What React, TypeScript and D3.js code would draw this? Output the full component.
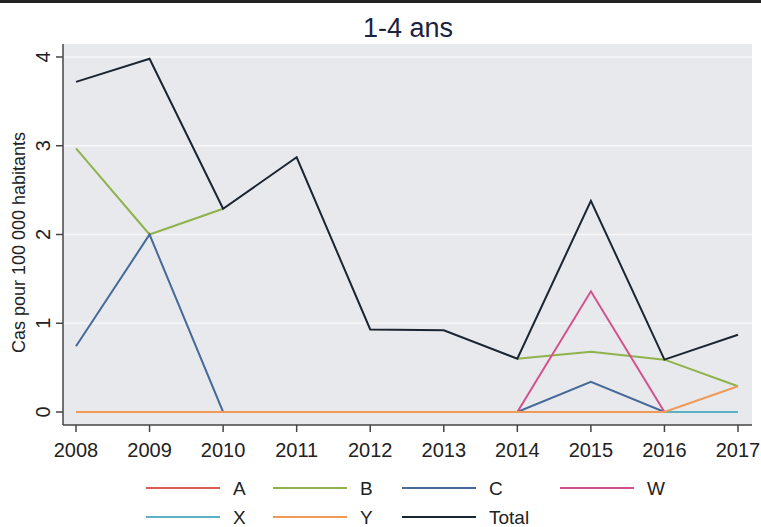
import React from 'react';
import * as d3 from 'd3';

const years = [2008, 2009, 2010, 2011, 2012, 2013, 2014, 2015, 2016, 2017];
const seriesA = [0, 0, 0, 0, 0, 0, 0, 0, 0, 0];
const seriesB = [2.97, 2.0, 2.29, null, null, null, 0.6, 0.68, 0.59, 0.29];
const seriesC = [0.74, 2.0, 0, 0, 0, 0, 0, 0.34, 0, 0];
const seriesW = [null, null, null, null, null, null, 0, 1.36, 0, null];
const seriesX = [0, 0, 0, 0, 0, 0, 0, 0, 0, 0];
const seriesY = [0, 0, 0, 0, 0, 0, 0, 0, 0, 0.29];
const seriesTotal = [3.72, 3.98, 2.29, 2.87, 0.93, 0.92, 0.6, 2.38, 0.59, 0.87];
const yTicks = [0, 1, 2, 3, 4];

const series = [
  { name: 'A', values: seriesA, color: '#dc5a55' },
  { name: 'B', values: seriesB, color: '#8fb24c' },
  { name: 'C', values: seriesC, color: '#46699a' },
  { name: 'W', values: seriesW, color: '#d4508c' },
  { name: 'X', values: seriesX, color: '#5cb2c2' },
  { name: 'Y', values: seriesY, color: '#f09a58' },
  { name: 'Total', values: seriesTotal, color: '#1b2531' },
];

// legend layout: [column x, row]
const legendPos = [[146, 0], [273, 0], [402, 0], [560, 0], [146, 1], [273, 1], [402, 1]];

const W = 761;
const H = 527;
const plot = { left: 63, right: 752, top: 44, bottom: 425 };
const font = 'Liberation Sans, Arial, sans-serif';

export default function App() {
  const x = d3.scaleLinear().domain([2008, 2017]).range([76, 738]);
  const y = d3.scaleLinear().domain([0, 4]).range([412, 57]);

  const line = d3.line<number | null>()
    .defined(d => d != null)
    .x((_, i) => x(years[i]))
    .y(d => y(d as number));

  return (
    <svg width={W} height={H} style={{ position: 'absolute', left: 0, top: 0, background: '#fff' }}>
      <rect x={0} y={0} width={W} height={3} fill="#222" />
      <text x={408} y={37} textAnchor="middle" fontFamily={font} fontSize={27} fill="#1c2340">1-4 ans</text>

      <rect x={plot.left} y={plot.top} width={plot.right - plot.left} height={plot.bottom - plot.top} fill="#e8e9ec" />
      {yTicks.filter(t => t > 0).map(t => (
        <line key={t} x1={plot.left} x2={plot.right} y1={y(t)} y2={y(t)} stroke="#f6f7f8" strokeWidth={1.5} />
      ))}

      {/* y axis */}
      <line x1={plot.left} x2={plot.left} y1={plot.top} y2={plot.bottom} stroke="#444" strokeWidth={1.5} />
      {yTicks.map(t => (
        <g key={t}>
          <line x1={plot.left - 7} x2={plot.left} y1={y(t)} y2={y(t)} stroke="#444" strokeWidth={1.5} />
          <text transform={`translate(50,${y(t)}) rotate(-90)`} textAnchor="middle" fontFamily={font} fontSize={20} fill="#222">{t}</text>
        </g>
      ))}
      <text transform={`translate(25,${(plot.top + plot.bottom) / 2 + 8}) rotate(-90)`} textAnchor="middle" fontFamily={font} fontSize={18} fill="#222">
        Cas pour 100 000 habitants
      </text>

      {/* x axis */}
      <line x1={plot.left} x2={plot.right} y1={plot.bottom} y2={plot.bottom} stroke="#444" strokeWidth={1.5} />
      {years.map(yr => (
        <g key={yr}>
          <line x1={x(yr)} x2={x(yr)} y1={plot.bottom} y2={plot.bottom + 7} stroke="#444" strokeWidth={1.5} />
          <text x={x(yr)} y={457} textAnchor="middle" fontFamily={font} fontSize={20} fill="#222">{yr}</text>
        </g>
      ))}

      {series.map(s => (
        <path key={s.name} d={line(s.values) || ''} fill="none" stroke={s.color} strokeWidth={2} strokeLinejoin="miter" />
      ))}

      {/* legend */}
      {series.map((s, i) => {
        const [lx, row] = legendPos[i];
        const ly = 488 + row * 29;
        return (
          <g key={s.name}>
            <line x1={lx} x2={lx + 74} y1={ly} y2={ly} stroke={s.color} strokeWidth={2} />
            <text x={lx + 87} y={ly + 7} fontFamily={font} fontSize={19} fill="#222">{s.name}</text>
          </g>
        );
      })}
    </svg>
  );
}
